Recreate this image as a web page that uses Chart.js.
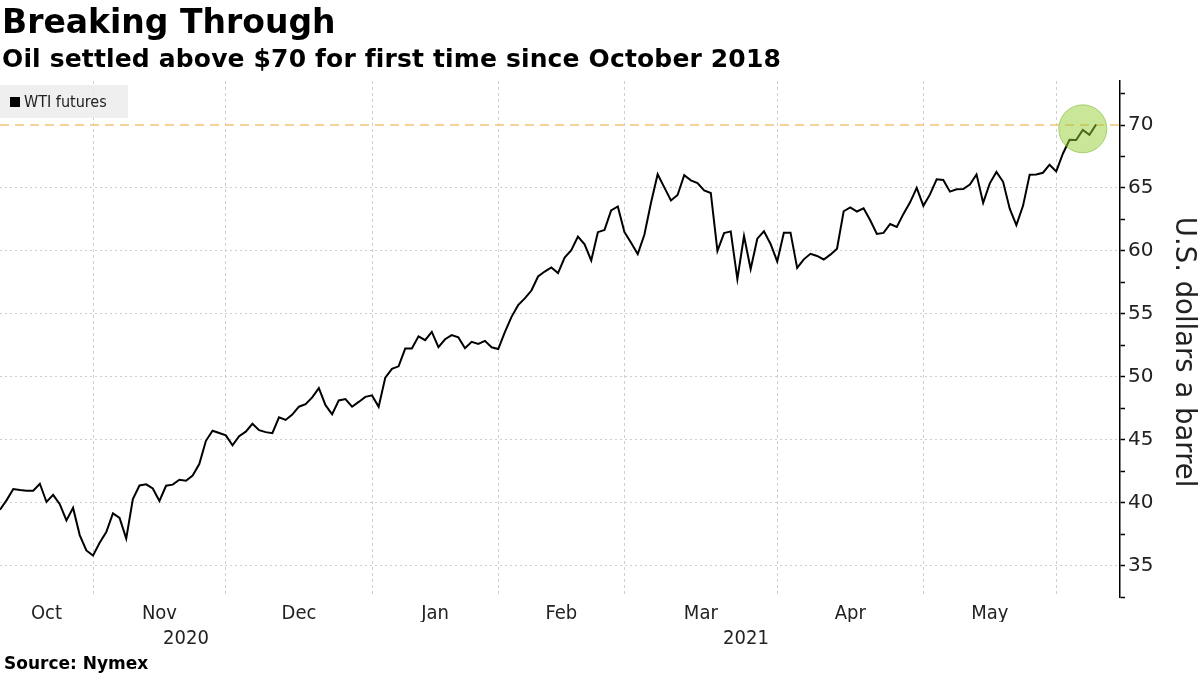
<!DOCTYPE html>
<html>
<head>
<meta charset="utf-8">
<script src="https://cdn.jsdelivr.net/npm/chart.js@4.4.1/dist/chart.umd.min.js"></script>
<style>
  body { margin: 0; width: 1200px; height: 674px; background: #fff; position: relative; overflow: hidden; }
  #chartBox { position: absolute; left: 0; top: 0; width: 1200px; height: 674px; }
  .txt { position: absolute; white-space: nowrap; color: #000; z-index: 2; }
  #title { left: 2px; top: 5px; font: bold 33px/33px "DejaVu Sans", sans-serif; }
  #subtitle { left: 2px; top: 46px; font: bold 25px/25px "DejaVu Sans", sans-serif; letter-spacing: 0.15px; }
  #source { left: 4px; top: 655px; font: bold 17px/17px "DejaVu Sans", sans-serif; }
  #legend { left: 0; top: 85px; width: 128px; height: 33px; background: rgba(236,236,236,0.85);
            font: 16px/33px "Liberation Sans Narrow", "Arial Narrow", "DejaVu Sans Condensed", sans-serif; color: #222; }
  #legend i { position: absolute; left: 10px; top: 12px; width: 10px; height: 10px; background: #000; }
  #legend span { position: absolute; left: 24px; top: 0; }
</style>
</head>
<body>
<div id="title" class="txt">Breaking Through</div>
<div id="subtitle" class="txt">Oil settled above $70 for first time since October 2018</div>
<div id="legend" class="txt"><i></i><span>WTI futures</span></div>
<div id="source" class="txt">Source: Nymex</div>
<div id="chartBox"><canvas id="myChart" width="1200" height="674"></canvas></div>

<script>
const months = ['Oct', 'Nov', 'Dec', 'Jan', 'Feb', 'Mar', 'Apr', 'May'];
// index of the last session in each month (vertical gridlines sit there)
const monthEnds = [14, 34, 56, 75, 94, 117, 139, 159];
const years = ['2020', '2021'];
const yearEnds = [56, 168.6];

// WTI settlements, one per session, Oct 12 2020 -> Jun 8 2021
const oct = [39.43, 40.20, 41.08, 41.00, 40.95, 40.95, 41.50, 40.05, 40.62, 39.88, 38.58, 39.58, 37.42, 36.20, 35.79];
const nov = [36.81, 37.66, 39.15, 38.79, 37.14, 40.29, 41.36, 41.45, 41.12, 40.13, 41.34, 41.43, 41.82, 41.74, 42.15,
             43.06, 44.91, 45.71, 45.53, 45.34];
const dec = [44.55, 45.28, 45.64, 46.26, 45.76, 45.60, 45.52, 46.78, 46.57, 46.99, 47.62, 47.82, 48.36, 49.10, 47.74,
             47.02, 48.12, 48.23, 47.62, 48.00, 48.40, 48.52];
const jan = [47.62, 49.93, 50.63, 50.83, 52.24, 52.25, 53.21, 52.91, 53.57, 52.36, 52.98, 53.31, 53.13, 52.27, 52.77,
             52.61, 52.85, 52.34, 52.20];
const feb = [53.55, 54.76, 55.69, 56.23, 56.85, 57.97, 58.36, 58.68, 58.24, 59.47, 60.05, 61.14, 60.52, 59.24, 61.49,
             61.67, 63.22, 63.53, 61.50];
const mar = [60.64, 59.75, 61.28, 63.83, 66.09, 65.05, 64.01, 64.44, 66.02, 65.61, 65.39, 64.80, 64.60, 60.00, 61.42,
             61.55, 57.76, 61.18, 58.56, 60.97, 61.56, 60.55, 59.16];
const apr = [61.45, 61.45, 58.65, 59.33, 59.77, 59.60, 59.32, 59.70, 60.18, 63.15, 63.46, 63.13, 63.38, 62.44, 61.35,
             61.43, 62.14, 61.91, 62.94, 63.86, 65.01, 63.58];
const may = [64.49, 65.69, 65.63, 64.71, 64.90, 64.92, 65.28, 66.08, 63.82, 65.37, 66.27, 65.49, 63.36, 62.05, 63.58,
             66.05, 66.07, 66.21, 66.85, 66.32];
const jun = [67.72, 68.83, 68.81, 69.62, 69.23, 70.05];

const wti = [].concat(oct, nov, dec, jan, feb, mar, apr, may, jun);
const level = 70;
const highlight = [{ x: 163, y: 69.7, r: 24 }];

const X_MAX = yearEnds[yearEnds.length - 1];
const NARROW = '"Liberation Sans Narrow", "Arial Narrow", "DejaVu Sans Condensed", sans-serif';

// month labels centred in each month, gridlines on the boundaries
const xTicks = [];
let prev = 0;
monthEnds.forEach((end, i) => {
  xTicks.push({ value: (prev + end) / 2, label: months[i], grid: false });
  xTicks.push({ value: end, label: '', grid: true });
  prev = end;
});
const yearTicks = [];
prev = 0;
yearEnds.forEach((end, i) => {
  yearTicks.push({ value: (prev + end) / 2, label: years[i] });
  prev = end;
});
const yTickVals = [];
for (let v = 32.5; v <= 72.5; v += 2.5) yTickVals.push(v);

// keep chart area flush with the canvas edges
const noPad = s => { s.paddingLeft = 0; s.paddingRight = 0; s.paddingTop = 0; s.paddingBottom = 0; };

const ctx = document.getElementById('myChart').getContext('2d');
new Chart(ctx, {
  type: 'line',
  data: {
    datasets: [
      {
        type: 'bubble',
        data: highlight,
        backgroundColor: 'rgba(150, 205, 50, 0.5)',
        borderColor: 'rgba(125, 185, 45, 0.6)',
        borderWidth: 1,
        clip: false,
        order: 0
      },
      {
        label: 'WTI futures',
        data: wti.map((v, i) => ({ x: i, y: v })),
        borderColor: '#000',
        borderWidth: 2,
        pointRadius: 0,
        tension: 0,
        order: 1
      },
      {
        data: [{ x: 0, y: level }, { x: X_MAX, y: level }],
        borderColor: '#f5c27a',
        borderWidth: 1.5,
        borderDash: [9, 6],
        pointRadius: 0,
        order: 2
      }
    ]
  },
  options: {
    responsive: false,
    animation: false,
    devicePixelRatio: 1,
    layout: { autoPadding: false, padding: { top: 81, bottom: 26, left: 0, right: 0 } },
    plugins: { legend: { display: false }, tooltip: { enabled: false } },
    scales: {
      x: {
        type: 'linear',
        min: 0,
        max: X_MAX,
        afterBuildTicks: s => { s.ticks = xTicks.map(t => ({ value: t.value })); },
        afterFit: s => { s.height = 25; noPad(s); },
        ticks: {
          autoSkip: false,
          maxRotation: 0,
          padding: 5,
          color: '#222',
          font: { family: NARROW, size: 20 },
          callback: (v, i) => xTicks[i].label
        },
        grid: {
          drawTicks: false,
          color: c => (c.tick && xTicks[c.index] && xTicks[c.index].grid) ? '#cfcfcf' : 'rgba(0,0,0,0)'
        },
        border: { display: false, dash: [3, 3] }
      },
      x2: {
        type: 'linear',
        position: 'bottom',
        weight: 1,
        min: 0,
        max: X_MAX,
        afterBuildTicks: s => { s.ticks = yearTicks.map(t => ({ value: t.value })); },
        afterFit: s => { s.height = 26; noPad(s); },
        ticks: {
          autoSkip: false,
          maxRotation: 0,
          padding: 5,
          color: '#222',
          font: { family: NARROW, size: 20 },
          callback: (v, i) => yearTicks[i].label
        },
        grid: { display: false, drawTicks: false },
        border: { display: false }
      },
      y: {
        position: 'right',
        min: 32.5,
        max: 73.5,
        afterBuildTicks: s => { s.ticks = yTickVals.map(v => ({ value: v })); },
        afterFit: s => { s.width = 80; noPad(s); },
        ticks: {
          padding: 3,
          color: '#222',
          font: { family: 'DejaVu Sans', size: 20 },
          callback: v => (v % 5 === 0 ? v : '')
        },
        grid: {
          tickLength: 5,
          tickWidth: 1.5,
          tickColor: '#000',
          color: c => (c.tick && c.tick.value % 5 === 0 && c.tick.value !== level) ? '#cfcfcf' : 'rgba(0,0,0,0)'
        },
        border: { display: true, color: '#000', width: 1.5, dash: [2, 3] },
        title: {
          display: true,
          // leading spaces nudge the rotated title a little lower, as in the original
          text: '   U.S. dollars a barrel',
          color: '#222',
          font: { family: 'DejaVu Sans', size: 27.5 },
          padding: { top: 0, bottom: 0 }
        }
      }
    }
  }
});
</script>
</body>
</html>
